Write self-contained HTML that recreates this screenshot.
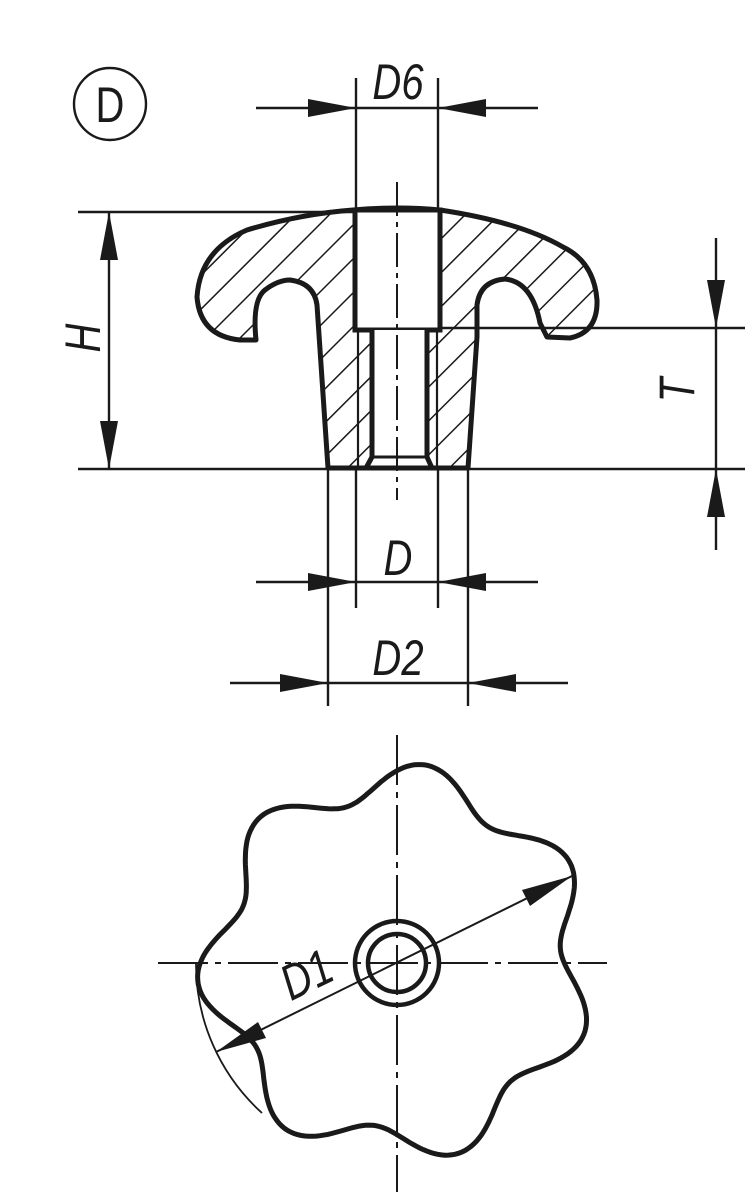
<!DOCTYPE html>
<html><head><meta charset="utf-8"><style>
html,body{margin:0;padding:0;background:#fff;width:752px;height:1200px;overflow:hidden}
svg{display:block}
text{font-family:"Liberation Sans",sans-serif;font-style:italic;fill:#1a1a1a}
</style></head><body>
<svg width="752" height="1200" viewBox="0 0 752 1200" xmlns="http://www.w3.org/2000/svg">
<defs>
<pattern id="hatch" patternUnits="userSpaceOnUse" width="24" height="24" patternTransform="rotate(45)">
<rect width="24" height="24" fill="#fff"/>
<line x1="0" y1="0" x2="0" y2="24" stroke="#1a1a1a" stroke-width="3"/>
</pattern>
</defs>
<g stroke="#1a1a1a" fill="none" stroke-linecap="butt">
<circle cx="110" cy="104" r="36" stroke-width="2.4"/>
<text x="0" y="0" font-size="50" text-anchor="middle" stroke="none" style="font-style:normal" transform="translate(110,122) scale(0.8,1)">D</text>

<path d="M353 210 Q300 214 247 230 Q200 250 197 297 Q200 336 240 340 L256 340 Q252 300 265 290 Q278 280 290 280 Q314 283 317 305 L328 468 L468 468 L477 337 L477 305 Q480 281 505 279 Q532 282 540 323 L547 337 L570 338 Q598 332 597 300 Q594 262 563 247 Q520 222 440 210 Q400 206 353 210 Z" fill="url(#hatch)" stroke-width="5" stroke-linejoin="round"/>
<rect x="355" y="210" width="85" height="120" fill="#fff" stroke-width="5"/>
<path d="M372 330 L372 457 L366 468 L432 468 L427 457 L427 330" fill="#fff" stroke-width="5"/>
<line x1="358" y1="330" x2="358" y2="468" stroke-width="2.2"/>
<line x1="437" y1="330" x2="437" y2="468" stroke-width="2.2"/>
<line x1="372" y1="457" x2="427" y2="457" stroke-width="3"/>

<line x1="397" y1="182" x2="397" y2="500" stroke-width="2" stroke-dasharray="34,6,5,6"/>

<g stroke-width="2.4">
<line x1="78" y1="212" x2="355" y2="212"/>
<line x1="78" y1="469" x2="745" y2="469"/>
<line x1="440" y1="328" x2="745" y2="328"/>
<line x1="356" y1="78" x2="356" y2="212"/>
<line x1="438" y1="78" x2="438" y2="212"/>
<line x1="328" y1="469" x2="328" y2="706"/>
<line x1="356" y1="469" x2="356" y2="608"/>
<line x1="438" y1="469" x2="438" y2="608"/>
<line x1="468" y1="469" x2="468" y2="706"/>
<line x1="256" y1="108" x2="538" y2="108"/>
<line x1="256" y1="582" x2="538" y2="582"/>
<line x1="230" y1="683" x2="568" y2="683"/>
<line x1="109" y1="212" x2="109" y2="469"/>
<line x1="716" y1="238" x2="716" y2="550"/>
</g>
</g>
<g fill="#1a1a1a">
<polygon points="356,108 308,99 308,117"/>
<polygon points="438,108 486,99 486,117"/>
<polygon points="356,582 308,573 308,591"/>
<polygon points="438,582 486,573 486,591"/>
<polygon points="328,683 280,674 280,692"/>
<polygon points="468,683 516,674 516,692"/>
<polygon points="109,212 100,260 118,260"/>
<polygon points="109,469 100,421 118,421"/>
<polygon points="716,328 707,280 725,280"/>
<polygon points="716,469 707,517 725,517"/>
</g>
<text x="0" y="0" font-size="50" text-anchor="middle" transform="translate(398,99) scale(0.8,1)">D6</text>
<text x="0" y="0" font-size="50" text-anchor="middle" transform="translate(398,575) scale(0.8,1)">D</text>
<text x="0" y="0" font-size="50" text-anchor="middle" transform="translate(398,675) scale(0.8,1)">D2</text>
<text x="0" y="0" font-size="50" text-anchor="middle" transform="translate(100,338) rotate(-90) scale(0.8,1)">H</text>
<text x="0" y="0" font-size="50" text-anchor="middle" transform="translate(694,390) rotate(-90) scale(0.8,1)">T</text>

<g stroke="#1a1a1a" fill="none">
<line x1="397" y1="735" x2="397" y2="1192" stroke-width="2" stroke-dasharray="50,7,6,7"/>
<line x1="158" y1="963" x2="607" y2="963" stroke-width="2" stroke-dasharray="50,7,6,7"/>
<path id="star" stroke-width="5"/>
<circle cx="397" cy="963" r="42" stroke-width="4.5"/>
<circle cx="397" cy="963" r="29" stroke-width="4.5"/>
<path d="M196 963 A201 201 0 0 0 262 1113" stroke-width="1.8"/>
<line x1="216" y1="1052" x2="572" y2="876" stroke-width="2"/>
<text x="0" y="0" font-size="50" text-anchor="middle" stroke="none" transform="translate(314,990) rotate(-26) scale(0.8,1)">D1</text>
</g>
<g fill="#1a1a1a">
<polygon points="572,876 530,906 522,890"/>
<polygon points="216,1052 258,1022 266,1038"/>
</g>
</svg>
<script>
(function(){
var cx=397,cy=963,pts=[],t0=175*Math.PI/180;
for(var i=0;i<=360;i++){
var a=i*Math.PI/180;
var c=Math.cos(7*(a-t0));
var r=182+18*c;
pts.push((cx+r*Math.cos(a)).toFixed(1)+","+(cy+r*Math.sin(a)).toFixed(1));
}
document.getElementById("star").setAttribute("d","M"+pts.join(" L")+" Z");
})();
</script>
</body></html>
